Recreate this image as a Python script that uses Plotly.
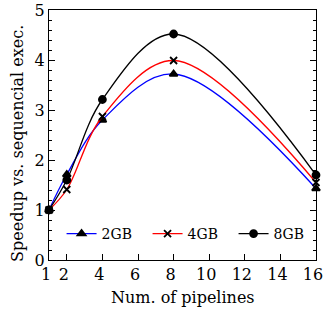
import plotly.graph_objects as go

pipelines = [1, 2, 4, 8, 16]
speedup_2gb = [1.0, 1.71, 2.80, 3.72, 1.43]
speedup_4gb = [1.0, 1.41, 2.87, 3.99, 1.55]
speedup_8gb = [1.0, 1.60, 3.21, 4.52, 1.70]
series_names = ["2GB", "4GB", "8GB"]
x_ticks = [1, 2, 4, 6, 8, 10, 12, 14, 16]
x_title = "Num. of pipelines"
y_title = "Speedup vs. sequencial exec."

FONT = "DejaVu Serif"

fig = go.Figure()
styles = [
    (speedup_2gb, "blue", "triangle-up", 7),
    (speedup_4gb, "red", "x-thin", 7),
    (speedup_8gb, "black", "circle", 7),
]
for name, (vals, col, sym, sz) in zip(series_names, styles):
    fig.add_trace(go.Scatter(
        x=pipelines, y=vals, name=name, mode="lines+markers",
        line=dict(color=col, width=1.3, shape="spline", smoothing=1.0),
        marker=dict(symbol=sym, size=sz, color="black",
                    line=dict(color="black", width=1.8)),
        cliponaxis=False,
    ))

fig.update_layout(
    width=324, height=312,
    margin=dict(l=49, r=8, t=10, b=52, autoexpand=False),
    plot_bgcolor="white", paper_bgcolor="white",
    font=dict(family=FONT, size=16, color="black"),
    showlegend=True,
    legend=dict(orientation="h", xref="container", x=0.19, y=0.104,
                xanchor="left", yanchor="middle",
                bgcolor="rgba(0,0,0,0)", font=dict(size=14, family=FONT),
                entrywidth=41, itemwidth=30, tracegroupgap=0),
    annotations=[
        dict(text=x_title, xref="paper", yref="paper", x=0.5, y=-0.148,
             xanchor="center", yanchor="middle", showarrow=False,
             font=dict(size=16, family=FONT)),
        dict(text=y_title, xref="paper", yref="paper", x=-0.12, y=0.468,
             xanchor="center", yanchor="middle", showarrow=False, textangle=-90,
             font=dict(size=16, family=FONT)),
    ],
)
fig.update_xaxes(
    range=[1, 16], tickvals=x_ticks, ticktext=[str(v) for v in x_ticks],
    ticks="inside", ticklen=6, tickcolor="black", showline=True, linecolor="black",
    linewidth=1, mirror=True, showgrid=False, zeroline=False, automargin=False,
    ticklabeloverflow="allow", ticklabelshift=-3,
    tickfont=dict(size=16, family=FONT),
)
fig.update_yaxes(
    range=[0, 5], tickvals=[0, 1, 2, 3, 4, 5],
    ticks="inside", ticklen=6, tickcolor="black", showline=True, linecolor="black",
    linewidth=1, mirror="allticks", showgrid=False, zeroline=False, automargin=False,
    ticklabeloverflow="allow",
    tickfont=dict(size=16, family=FONT),
    minor=dict(dtick=0.2, ticks="inside", ticklen=3, tickcolor="black", showgrid=False),
)

fig.write_html(
    "out.html",
    config={"displayModeBar": False},
    post_script="document.body.style.margin='0';document.body.style.overflow='hidden';",
)
